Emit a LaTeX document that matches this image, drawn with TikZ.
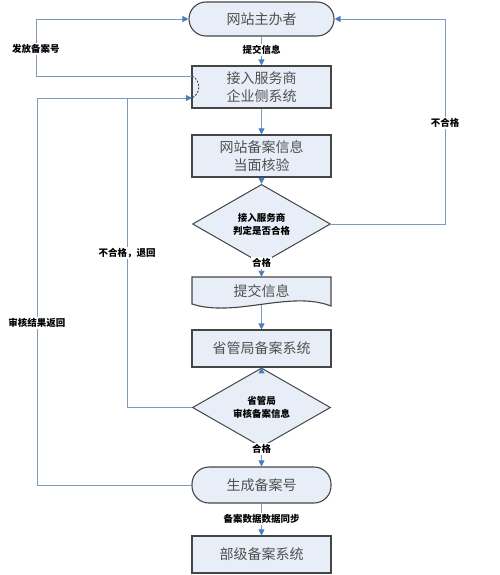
\documentclass[tikz,border=0pt]{standalone}
\usepackage{fontspec}
\newfontfamily\cjk{Noto Sans CJK SC}
\usetikzlibrary{shapes.geometric,arrows.meta}
\definecolor{fillc}{HTML}{E8EEF7}
\definecolor{edgec}{HTML}{454545}
\definecolor{linec}{HTML}{7F98C0}
\definecolor{arrc}{HTML}{4A7EBB}
\definecolor{txtc}{HTML}{505050}
\begin{document}
\begin{tikzpicture}[x=1pt,y=-1pt,
  box/.style={draw=edgec, fill=fillc, line width=1.1pt, minimum width=139pt, minimum height=42pt,
    font=\cjk\fontsize{14}{18}\selectfont, text=txtc, align=center, inner sep=0pt},
  term/.style={box, rounded corners=17pt, minimum height=34pt},
  dec/.style={diamond, draw=edgec, fill=fillc, line width=1pt, minimum width=138pt, minimum height=50pt,
    inner sep=0pt, align=center, font=\cjk\bfseries\fontsize{9.5}{13}\selectfont, text=black},
  lab/.style={fill=white, font=\cjk\bfseries\fontsize{9.5}{11}\selectfont, inner sep=1.2pt, text=black},
  conn/.style={draw=linec, line width=0.9pt, -{Triangle[length=6pt,width=6pt,color=arrc]}},
  plain/.style={draw=linec, line width=0.9pt}]
\useasboundingbox (0,0) rectangle (500,575);
% nodes
\node[term, minimum width=145pt] (host) at (261.5,19) {网站主办者};
\node[box] (isp) at (261.5,87) {接入服务商\\企业侧系统};
\node[box] (check) at (261.5,156) {网站备案信息\\当面核验};
\node[dec] (d1) at (261.5,224) {接入服务商\\判定是否合格};
% document shape
\path[draw=edgec, fill=fillc, line width=1.1pt]
  (192,277) -- (331,277) -- (331,306) .. controls (290,290) and (235,318) .. (192,304) -- cycle;
\node[font=\cjk\fontsize{14}{18}\selectfont, text=txtc, minimum width=139pt, minimum height=28pt, inner sep=0pt] (submit) at (261.5,291) {提交信息};
\node[box, minimum height=37pt] (prov) at (261.5,348.5) {省管局备案系统};
\node[dec, minimum height=49pt] (d2) at (261.5,407.5) {省管局\\审核备案信息};
\node[term, minimum height=36pt] (gen) at (261.5,485) {生成备案号};
\node[box, minimum height=37pt] (mini) at (261.5,554.5) {部级备案系统};
% helper coordinates
\coordinate (ispa) at (192,76);
\coordinate (ispb) at (192,98);
\coordinate (c1) at (36,76);
\coordinate (c2) at (36,19);
\coordinate (r1) at (445,224);
\coordinate (r2) at (445,19);
\coordinate (l1) at (37,485);
\coordinate (l2) at (37,98);
\coordinate (m1) at (127,407.5);
\coordinate (m2) at (127,98);
% vertical flow
\draw[conn] (host.south) -- (isp.north);
\draw[conn] (isp.south) -- (check.north);
\draw[conn] (check.south) -- (d1.north);
\draw[conn] (d1.south) -- (submit.north);
\draw[conn] (submit.south) -- (prov.north);
\draw[conn] (prov.south) -- (d2.north);
\draw[conn] (d2.south) -- (gen.north);
\draw[conn] (gen.south) -- (mini.north);
% loops
\draw[conn] (d1.east) -- (r1) -- (r2) -- (host.east);
\draw[conn] (ispa) -- (c1) -- (c2) -- (host.west);
\draw[draw=edgec, line width=0.9pt, dash pattern=on 2pt off 1.5pt] (ispa) .. controls (201,80) and (201,94) .. (ispb);
\draw[conn] (gen.west) -- (l1) -- (l2) -- (ispb);
\draw[plain] (d2.west) -- (m1) -- (m2);
% labels
\node[lab] (t1) at (261.5,50) {提交信息};
\node[lab] (t2) at (261.5,263) {合格};
\node[lab] (t3) at (261.5,449) {合格};
\node[lab] (t4) at (261.5,519) {备案数据数据同步};
\node[lab] (t5) at (445,123) {不合格};
\node[lab] (t6) at (36,49) {发放备案号};
\node[lab] (t7) at (37,323) {审核结果返回};
\node[lab] (t8) at (127,253) {不合格，退回};
\end{tikzpicture}
\end{document}
